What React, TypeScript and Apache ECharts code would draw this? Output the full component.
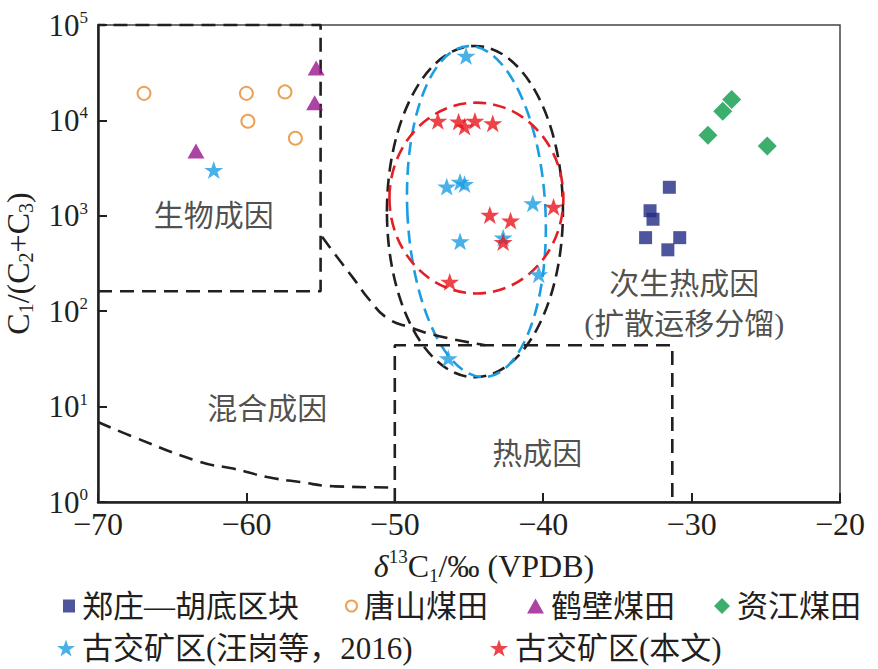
import React, { useEffect, useRef } from "react";
import * as echarts from "echarts";

const FONT = "'Liberation Serif', 'Noto Sans CJK SC', serif";
const INK = "#231f20";

// Scatter data: [δ13C1 (‰), C1/(C2+C3)]
const zhengzhuang = [[-31.5, 1990], [-32.8, 1130], [-32.6, 920], [-33.1, 590], [-30.8, 590], [-31.6, 440]];
const tangshan = [[-66.9, 19200], [-60.0, 19200], [-57.4, 19900], [-59.9, 9800], [-56.7, 6500]];
const hebi = [[-55.3, 35400], [-55.4, 15300], [-63.4, 4780]];
const zijiang = [[-27.3, 16600], [-27.9, 12500], [-28.9, 7000], [-24.9, 5400]];
const gujiaoWang = [[-62.2, 3020], [-45.2, 47400], [-46.5, 2020], [-45.6, 2270], [-45.3, 2150], [-40.7, 1350], [-45.6, 540], [-42.7, 590], [-40.3, 243], [-46.4, 32]];
const gujiaoThis = [[-47.1, 9900], [-45.7, 9700], [-45.3, 8600], [-44.6, 9900], [-43.4, 9300], [-43.6, 1020], [-42.2, 890], [-39.3, 1240], [-42.7, 530], [-46.3, 203]];

// Zone boundaries (data coordinates)
const bioBox = [[-70, 162], [-55, 162], [-55, 100000], [-70, 100000]];
const thermoBox = [[-50, 1], [-50, 44], [-31.3, 44], [-31.3, 1]];
const upperCurve = [[-54.9, 602], [-53.9, 372], [-52.8, 222], [-51.7, 131], [-50.5, 84.5], [-49.0, 68], [-47.0, 54.7], [-43.9, 44]];
const lowerCurve = [[-70, 6.9], [-67.6, 4.8], [-63.1, 2.63], [-60.9, 2.24], [-58.6, 1.83], [-56.4, 1.62], [-54.1, 1.46], [-50.0, 1.42]];

// Ellipses: [centre x, centre y, x-radius (‰), y-radius (decades)]
const ellipseBlack = [-44.6, 1107, 5.93, 1.736];
const ellipseBlue = [-44.5, 1107, 4.65, 1.736];
const ellipseRed = [-44.5, 1535, 5.86, 1.0];

// Zone labels
const zoneLabels = [
  { name: "生物成因", value: [-62.2, 1000] },
  { name: "混合成因", value: [-58.6, 9.6] },
  { name: "热成因", value: [-40.4, 3.24] },
  { name: "次生热成因", value: [-30.5, 197] },
  { name: "(扩散运移分馏)", value: [-30.5, 75] },
];

const yTicks = ["10{s|0}", "10{s|1}", "10{s|2}", "10{s|3}", "10{s|4}", "10{s|5}"];

const seriesNames = ["郑庄—胡底区块", "唐山煤田", "鹤壁煤田", "资江煤田", "古交矿区(汪岗等，2016)", "古交矿区(本文)"];

const STAR = "path://M50,2 L61.8,36.2 L97.6,36.2 L68.6,57.4 L79.6,91.6 L50,70.4 L20.4,91.6 L31.4,57.4 L2.4,36.2 L38.2,36.2 Z";

function ellipseSeries(data: number[], color: string, rot: number) {
  return {
    type: "custom",
    coordinateSystem: "cartesian2d",
    clip: false,
    silent: true,
    z: 3,
    data: [data],
    renderItem: (_p: any, api: any) => {
      const cx = api.value(0);
      const cy = api.value(1);
      const rx = api.value(2);
      const ry = api.value(3);
      const c = api.coord([cx, cy]);
      const r = api.coord([cx + rx, cy]);
      const t = api.coord([cx, cy * Math.pow(10, ry)]);
      return {
        type: "ellipse",
        x: c[0],
        y: c[1],
        rotation: rot,
        shape: { cx: 0, cy: 0, rx: r[0] - c[0], ry: c[1] - t[1] },
        style: { fill: "none", stroke: color, lineWidth: 2.6, lineDash: [13, 7] },
      };
    },
  };
}

function dashedLine(data: number[][], smooth: boolean) {
  return {
    type: "line",
    data,
    smooth,
    clip: false,
    silent: true,
    symbol: "none",
    z: 3,
    lineStyle: { color: INK, width: 2.6, type: [14, 8] },
  };
}

function legendFor(name: string, left: number, top: number, w: number, h: number) {
  return {
    data: [name],
    left,
    top,
    padding: 0,
    itemWidth: w,
    itemHeight: h,
    selectedMode: false,
    textStyle: { fontFamily: FONT, fontSize: 31, color: INK, lineHeight: 32, padding: [0, 0, 0, 2] },
  };
}

export default function App() {
  const ref = useRef<HTMLDivElement>(null);
  useEffect(() => {
    if (!ref.current) return;
    const chart = echarts.init(ref.current, null, { renderer: "svg" });
    const scatterBase = { type: "scatter", z: 5, clip: false };
    chart.setOption({
      animation: false,
      backgroundColor: "#ffffff",
      grid: { left: 98, top: 25, right: 38, bottom: 167, show: true, borderColor: "#444", borderWidth: 1.5, outerBoundsMode: "none" },
      legend: [
        legendFor(seriesNames[0], 63, 590, 12, 13),
        legendFor(seriesNames[1], 345, 590, 11, 11),
        legendFor(seriesNames[2], 527, 590, 17, 15),
        legendFor(seriesNames[3], 714, 590, 16, 16),
        legendFor(seriesNames[4], 57, 632, 18, 18),
        legendFor(seriesNames[5], 490, 632, 18, 18),
      ],
      xAxis: {
        type: "value",
        min: -70,
        max: -20,
        interval: 10,
        name: "{i|δ}{sup|13}C{sub|1}/‰ (VPDB)",
        nameLocation: "middle",
        nameGap: 45,
        nameTextStyle: {
          fontFamily: FONT,
          fontSize: 32,
          color: INK,
          lineHeight: 38,
          padding: [0, 0, 0, 30],
          rich: {
            i: { fontFamily: FONT, fontSize: 32, fontStyle: "italic", color: INK, lineHeight: 38 },
            sup: { fontFamily: FONT, fontSize: 19, color: INK, verticalAlign: "top", lineHeight: 19 },
            sub: { fontFamily: FONT, fontSize: 19, color: INK, verticalAlign: "bottom", lineHeight: 23 },
          },
        },
        axisLine: { show: true, onZero: false, lineStyle: { color: INK, width: 2.5 } },
        axisTick: { show: true, inside: true, length: 9, lineStyle: { color: INK, width: 2 } },
        axisLabel: {
          fontFamily: FONT,
          fontSize: 32,
          color: INK,
          margin: 6,
          formatter: (v: number) => (v < 0 ? "−" + Math.abs(v) : String(v)),
        },
        splitLine: { show: false },
      },
      yAxis: {
        type: "log",
        logBase: 10,
        min: 1,
        max: 100000,
        name: "C{sub|1}/(C{sub|2}+C{sub|3})",
        nameLocation: "middle",
        nameGap: 62,
        nameTextStyle: {
          fontFamily: FONT,
          fontSize: 32,
          color: INK,
          lineHeight: 36,
          rich: {
            sub: { fontFamily: FONT, fontSize: 20, color: INK, verticalAlign: "bottom", lineHeight: 22 },
          },
        },
        axisLine: { show: true, lineStyle: { color: INK, width: 2.5 } },
        axisTick: { show: true, inside: true, length: 9, lineStyle: { color: INK, width: 2 } },
        axisLabel: {
          fontFamily: FONT,
          fontSize: 31,
          color: INK,
          margin: 10,
          lineHeight: 32,
          formatter: (v: number) => yTicks[Math.round(Math.log10(v))],
          rich: {
            s: { fontFamily: FONT, fontSize: 17, color: INK, verticalAlign: "top", lineHeight: 18 },
          },
        },
        splitLine: { show: false },
        minorTick: { show: false },
      },
      series: [
        dashedLine(bioBox, false),
        dashedLine(thermoBox, false),
        dashedLine(upperCurve, true),
        dashedLine(lowerCurve, true),
        ellipseSeries(ellipseBlack, INK, 0),
        ellipseSeries(ellipseBlue, "#1b9de2", 0.05),
        ellipseSeries(ellipseRed, "#e31e24", 0),
        {
          type: "scatter",
          data: zoneLabels,
          symbolSize: 0,
          silent: true,
          z: 4,
          label: {
            show: true,
            position: "inside",
            formatter: "{b}",
            fontFamily: FONT,
            fontSize: 30,
            color: INK,
          },
        },
        { ...scatterBase, name: seriesNames[0], data: zhengzhuang, symbol: "rect", symbolSize: 13, itemStyle: { color: "#232a84" } },
        { ...scatterBase, name: seriesNames[1], data: tangshan, symbol: "emptyCircle", symbolSize: 13, itemStyle: { color: "#e88a2b", borderWidth: 2 } },
        { ...scatterBase, name: seriesNames[2], data: hebi, symbol: "triangle", symbolSize: [17, 15], itemStyle: { color: "#99158c" } },
        { ...scatterBase, name: seriesNames[3], data: zijiang, symbol: "diamond", symbolSize: [19, 19], itemStyle: { color: "#0b9a48" } },
        { ...scatterBase, name: seriesNames[4], data: gujiaoWang, symbol: STAR, symbolKeepAspect: true, symbolSize: 19, itemStyle: { color: "#1b9de2" } },
        { ...scatterBase, name: seriesNames[5], data: gujiaoThis, symbol: STAR, symbolKeepAspect: true, symbolSize: 19, itemStyle: { color: "#e8141b" } },
      ],
    });
    return () => chart.dispose();
  }, []);
  return <div ref={ref} style={{ position: "fixed", left: 0, top: 0, width: 878, height: 669 }} />;
}
